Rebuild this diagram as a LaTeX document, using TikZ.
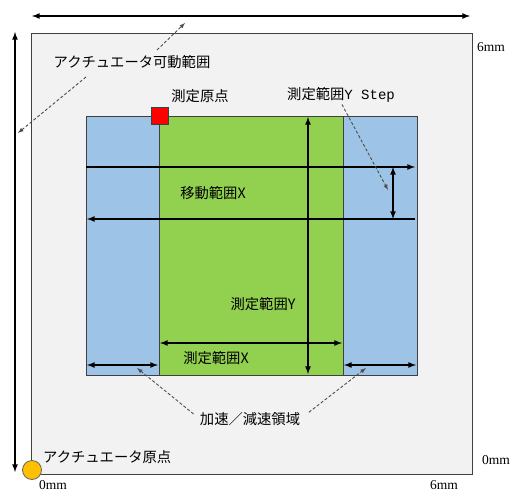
\documentclass[tikz,border=0pt]{standalone}
\usepackage{fontspec}
\setmainfont{Liberation Serif}
\newfontfamily\jp{Noto Sans CJK JP}
\newfontfamily\jpmono{Liberation Mono}
\definecolor{stagegray}{HTML}{F2F2F2}
\definecolor{accblue}{HTML}{9DC3E6}
\definecolor{measgreen}{HTML}{92D050}
\definecolor{origred}{HTML}{FF0000}
\definecolor{origorange}{HTML}{FFC000}
\def\lbl{\jp\fontsize{14.3}{15}\selectfont}
\begin{document}
\begin{tikzpicture}[x=1pt,y=-1pt,
			area/.style={draw=black!75,line width=0.8pt,anchor=north west},
			dim/.style={<->,>=latex,line width=1.6pt},
			mv/.style={->,>=latex,line width=1.6pt},
			note/.style={->,>=latex,dashed,dash pattern=on 3pt off 2pt,draw=black!70,line width=0.9pt},
			lab/.style={font=\lbl},
			mm/.style={font=\fontsize{13.5}{14}\selectfont},
			inner sep=0pt]
			\useasboundingbox (0,0) rectangle (510,492);
			\node [area,fill=stagegray,minimum width=441,minimum height=441] (stage) at (31,33) {};
			\node [area,fill=accblue,minimum width=331,minimum height=259] (acc) at (86,116) {};
			\node [area,fill=measgreen,minimum width=184,minimum height=259] (meas) at (159,116) {};
			\node [draw=black!75,fill=origred,minimum size=17,line width=0.8pt] (measorig) at (159.5,116) {};
			\node [circle,draw=black!60,fill=origorange,minimum size=19,line width=0.8pt] (actorig) at (32,470) {};
			\coordinate (xl) at (32,16); \coordinate (xr) at (470,16);
			\coordinate (yt) at (15,32); \coordinate (yb) at (15,472);
			\draw [dim] (xl) -- (xr);
			\draw [dim] (yt) -- (yb);
			\coordinate (mv1a) at (86,167); \coordinate (mv1b) at (415,167);
			\coordinate (mv2a) at (415,219); \coordinate (mv2b) at (87,219);
			\draw [mv] (mv1a) -- (mv1b);
			\draw [mv] (mv2a) -- (mv2b);
			\coordinate (st1) at (393,167); \coordinate (st2) at (393,219);
			\draw [dim] (st1) -- (st2);
			\coordinate (my1) at (308,117); \coordinate (my2) at (308,374);
			\draw [dim] (my1) -- (my2);
			\coordinate (mx1) at (160,343); \coordinate (mx2) at (342,343);
			\draw [dim] (mx1) -- (mx2);
			\coordinate (al1) at (87,365); \coordinate (al2) at (158,365);
			\coordinate (ar1) at (344,365); \coordinate (ar2) at (416,365);
			\draw [dim] (al1) -- (al2);
			\draw [dim] (ar1) -- (ar2);
			\node [lab] (stagelab) at (132,62) {アクチュエータ可動範囲};
				\coordinate (stagelo) at (86,77); \coordinate (stagelo2) at (18,133);
				\coordinate (stagehi) at (157,50); \coordinate (stagehi2) at (185,23);
				\draw [note] (stagelo) -- (stagelo2);
				\draw [note] (stagehi) -- (stagehi2);
			\node [lab] (origlab) at (200,96) {測定原点};
			\node [lab] (steplab) at (341,95) {測定範囲{\jpmono\fontsize{14}{14}\selectfont Y Step}};
				\coordinate (stepend) at (388,190);
				\draw [note,shorten <=2pt] (steplab.south) -- (stepend);
			\node [lab] (mvlab) at (213,193) {移動範囲X};
			\node [lab] (mylab) at (263,304) {測定範囲Y};
			\node [lab] (mxlab) at (216,358) {測定範囲X};
			\node [lab] (acclab) at (250,419) {加速／減速領域};
				\coordinate (accl) at (137,368); \coordinate (accr) at (366,368);
				\draw [note,shorten <=8pt] (acclab.west) -- (accl);
				\draw [note,shorten <=11pt] (acclab.east) -- (accr);
			\node [lab,anchor=west] (actlab) at (43,457) {アクチュエータ原点};
			\node [mm] (mmtr) at (491,47) {6mm};
			\node [mm] (mmbr) at (496,460) {0mm};
			\node [mm] (mmbl) at (53,485) {0mm};
			\node [mm] (mmbx) at (444,485) {6mm};
		\end{tikzpicture}
\end{document}
